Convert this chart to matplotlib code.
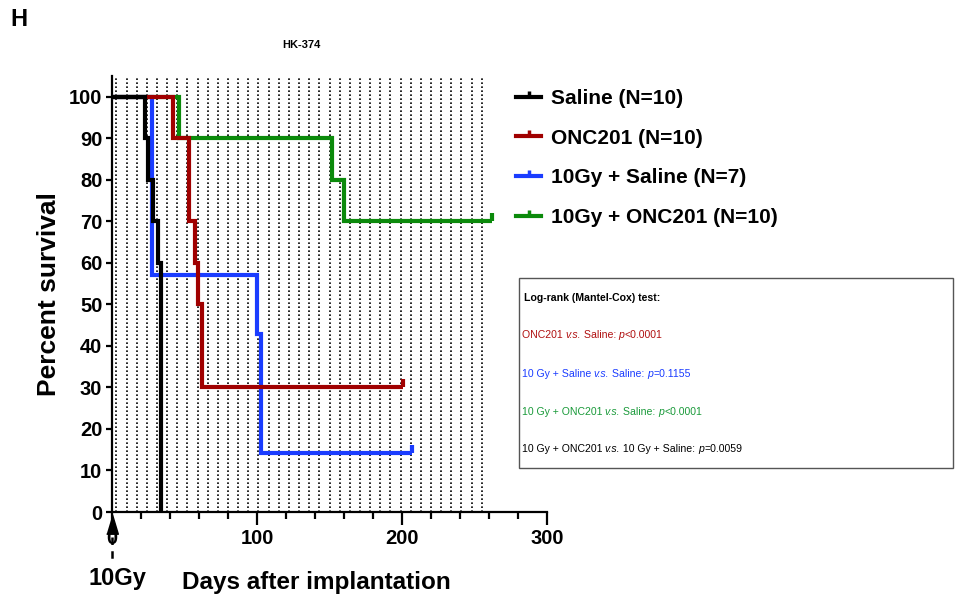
import matplotlib
matplotlib.use("Agg")
import matplotlib.pyplot as plt
from matplotlib.patches import Rectangle
from matplotlib.lines import Line2D
from matplotlib.transforms import offset_copy

plt.rcParams['font.family'] = ['Liberation Sans', 'DejaVu Sans']

# ---------------- data ----------------
saline_days = [0, 23, 25, 28, 32, 34]
saline_surv = [100, 90, 80, 70, 60, 0]

onc_days = [0, 42, 53, 57, 59, 62, 201]
onc_surv = [100, 90, 70, 60, 50, 30, 30]

gy_saline_days = [0, 27.6, 100, 102.8, 207]
gy_saline_surv = [100, 57.1, 42.9, 14.3, 14.3]

gy_onc_days = [0, 46.5, 152, 160, 262]
gy_onc_surv = [100, 90, 80, 70, 70]

series_labels = ["Saline (N=10)", "ONC201 (N=10)", "10Gy + Saline (N=7)", "10Gy + ONC201 (N=10)"]
series_colors = ["#000000", "#a00000", "#1a3cff", "#0b8a0b"]

treatment_days = list(range(3, 256, 7))   # dotted reference lines (weekly)

x_ticks = [0, 100, 200, 300]
y_ticks = [0, 10, 20, 30, 40, 50, 60, 70, 80, 90, 100]

stats_title = "Log-rank (Mantel-Cox) test:"
# each line: list of (text, italic?)
stats_lines = [
    [("ONC201 ", False), ("v.s.", True), (" Saline: ", False), ("p", True), ("<0.0001", False)],
    [("10 Gy + Saline ", False), ("v.s.", True), (" Saline: ", False), ("p", True), ("=0.1155", False)],
    [("10 Gy + ONC201 ", False), ("v.s.", True), (" Saline: ", False), ("p", True), ("<0.0001", False)],
    [("10 Gy + ONC201 ", False), ("v.s.", True), (" 10 Gy + Saline: ", False), ("p", True), ("=0.0059", False)],
]
stats_colors = ["#b01010", "#1a3cff", "#1a9a3a", "#000000"]

# ---------------- figure ----------------
W, H = 955, 604
fig = plt.figure(figsize=(W / 100, H / 100), dpi=100)
ax = fig.add_axes([112 / W, 1 - 512 / H, (547 - 112) / W, (512 - 76) / H])

ax.set_xlim(0, 300)
ax.set_ylim(0, 105)

# dotted vertical lines
for d in treatment_days:
    ax.plot([d, d], [0, 105], color="black", lw=1.2, ls=(0, (1.0, 1.4)), zorder=1)

series = [
    (saline_days, saline_surv),
    (onc_days, onc_surv),
    (gy_saline_days, gy_saline_surv),
    (gy_onc_days, gy_onc_surv),
]
censored = [False, True, True, True]
zorders = [6, 5, 4, 3]
for (dx, sy), col, lab, cen, z in zip(series, series_colors, series_labels, censored, zorders):
    ax.step(dx, sy, where="post", color=col, lw=3.0, zorder=z, clip_on=False,
            solid_capstyle="butt", solid_joinstyle="miter")
    if cen:
        ax.plot([dx[-1]], [sy[-1]], marker=2, ms=6, mew=3.0, color=col, zorder=z, clip_on=False)

# spines / ticks
for s in ["top", "right"]:
    ax.spines[s].set_visible(False)
for s in ["left", "bottom"]:
    ax.spines[s].set_linewidth(1.6)
ax.set_xticks(x_ticks)
ax.set_xticks(range(0, 301, 20), minor=True)
ax.set_yticks(y_ticks)
ax.tick_params(axis="x", which="major", length=9, width=1.6, direction="out", pad=3)
ax.tick_params(axis="x", which="minor", length=5, width=1.6, direction="out")
ax.tick_params(axis="y", which="major", length=4, width=1.6, direction="out", pad=3)
for lbl in ax.get_xticklabels() + ax.get_yticklabels():
    lbl.set_fontsize(14.5)
    lbl.set_fontweight("bold")

ax.set_ylabel("Percent survival", fontsize=19, fontweight="bold", labelpad=6)

# irradiation arrow (day 0)
ax.plot([0], [-3.0], marker=[(-0.3, -0.5), (0.3, -0.5), (0, 0.5)], ms=14,
        color="black", clip_on=False, zorder=7)
ax.plot([0, 0], [-6, -12.3], color="black", lw=1.8, ls=(0, (3, 2.5)), clip_on=False)

fig.text(117 / W, 1 - 579 / H, "10Gy", fontsize=17, fontweight="bold", ha="center", va="center")
fig.text(316 / W, 1 - 583 / H, "Days after implantation", fontsize=17.5, fontweight="bold",
         ha="center", va="center")

# titles
fig.text(301 / W, 1 - 45 / H, "HK-374", fontsize=8, fontweight="bold", ha="center", va="center")
fig.text(10 / W, 1 - 20 / H, "H", fontsize=17, fontweight="bold", ha="left", va="center")

# legend
handles = [Line2D([0], [0], color=c, lw=3.0, marker=2, ms=4, mew=2.5) for c in series_colors]
leg = fig.legend(handles, series_labels, loc="upper left", bbox_to_anchor=(516 / W, 1 - 89 / H),
                 frameon=False, prop=dict(size=15, weight="bold"), handlelength=1.2,
                 handletextpad=0.5, labelspacing=0.99, borderpad=0, borderaxespad=0)

# stats box
fig.patches.append(Rectangle((519 / W, 1 - 468 / H), (953 - 519) / W, (468 - 278) / H,
                             transform=fig.transFigure, fill=False, edgecolor="#555555", lw=1.0))
fig.text(524 / W, 1 - 298 / H, stats_title, fontsize=7.6, fontweight="bold", ha="left", va="center")

renderer = fig.canvas.get_renderer()
for segs, c, y in zip(stats_lines, stats_colors, [335, 374, 411.7, 449.3]):
    x_px = 0.0
    for txt, it in segs:
        tr = offset_copy(fig.transFigure, fig=fig, x=x_px * 72 / 100, y=0, units="points")
        t = fig.text(521.5 / W, 1 - y / H, txt, fontsize=7.6, color=c, ha="left", va="center",
                     style="italic" if it else "normal", transform=tr)
        x_px += t.get_window_extent(renderer).width

fig.savefig("out.png", dpi=100)
